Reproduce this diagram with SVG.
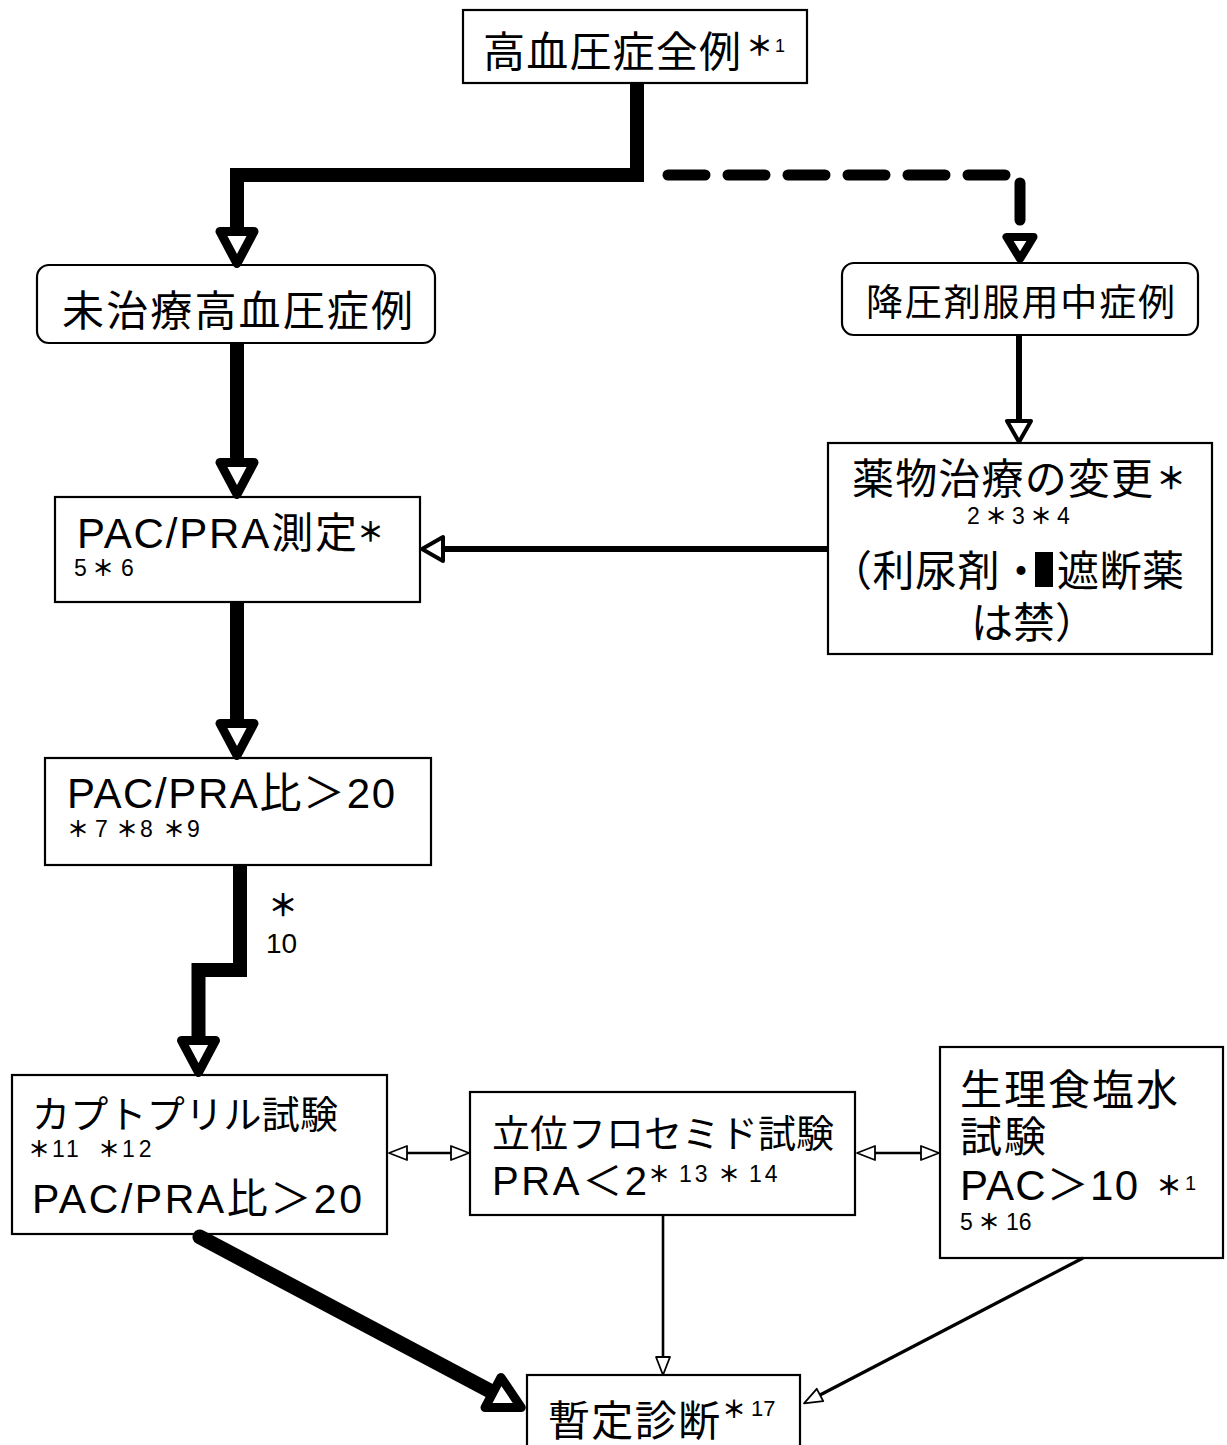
<svg xmlns="http://www.w3.org/2000/svg" width="1227" height="1445" viewBox="0 0 1227 1445">
<defs>
<style>
.box{fill:#fff;stroke:#000;stroke-width:2.2}
.t{font-family:"Liberation Sans","Noto Sans CJK JP",sans-serif;fill:#000}
.a{font-weight:bold;font-size:22px}
.thick{fill:none;stroke:#000;stroke-width:14;stroke-linejoin:miter}
.dash{fill:none;stroke:#000;stroke-width:11;stroke-dasharray:37 23;stroke-linecap:round;stroke-linejoin:round}
.med{fill:none;stroke:#000;stroke-width:6}
.thin{fill:none;stroke:#000;stroke-width:2.6}
</style>
<marker id="ab" markerUnits="userSpaceOnUse" markerWidth="60" markerHeight="60" viewBox="-10 -30 60 60" refX="0" refY="0" orient="auto" overflow="visible">
<path d="M0,-17 L32,0 L0,17 z" fill="#fff" stroke="#000" stroke-width="9" stroke-linejoin="round"/>
</marker>
<marker id="ad" markerUnits="userSpaceOnUse" markerWidth="50" markerHeight="50" viewBox="-10 -25 50 50" refX="0" refY="0" orient="auto" overflow="visible">
<path d="M0,-13.5 L22,0 L0,13.5 z" fill="#fff" stroke="#000" stroke-width="8" stroke-linejoin="round"/>
</marker>
<marker id="am" markerUnits="userSpaceOnUse" markerWidth="40" markerHeight="40" viewBox="-10 -20 40 40" refX="0" refY="0" orient="auto" overflow="visible">
<path d="M0,-12 L21,0 L0,12 z" fill="#fff" stroke="#000" stroke-width="4" stroke-linejoin="round"/>
</marker>
<marker id="as" markerUnits="userSpaceOnUse" markerWidth="30" markerHeight="30" viewBox="-5 -15 30 30" refX="0" refY="0" orient="auto-start-reverse" overflow="visible">
<path d="M0,-7 L18,0 L0,7 z" fill="#fff" stroke="#000" stroke-width="1.8" stroke-linejoin="round"/>
</marker>
</defs>
<rect x="0" y="0" width="1227" height="1445" fill="#fff"/>

<g id="n1">
<rect class="box" x="463" y="10" width="344" height="73"/>
<text class="t" x="483" y="67" font-size="42" textLength="258" lengthAdjust="spacing">高血圧症全例</text>
<text class="t" x="746" y="56" font-size="27" font-weight="bold">＊</text>
<text class="t" x="775" y="52" font-size="18">1</text>
</g>

<g id="n2">
<rect class="box" x="37" y="265" width="398" height="78" rx="12"/>
<text class="t" x="62" y="326" font-size="42" textLength="351" lengthAdjust="spacing">未治療高血圧症例</text>
</g>

<g id="n3">
<rect class="box" x="842" y="263" width="356" height="72" rx="12"/>
<text class="t" x="866" y="316" font-size="37" textLength="309" lengthAdjust="spacing">降圧剤服用中症例</text>
</g>

<g id="n4">
<rect class="box" x="55" y="497" width="365" height="105"/>
<text class="t" x="77" y="548" font-size="42" textLength="280" lengthAdjust="spacing">PAC/PRA測定</text>
<text class="t" x="357" y="542" font-size="27" font-weight="bold">＊</text>
<text class="t" y="576" font-size="23"><tspan x="74">5</tspan><tspan class="a" x="92">＊</tspan><tspan x="121">6</tspan></text>
</g>

<g id="n5">
<rect class="box" x="828" y="443" width="384" height="211"/>
<text class="t" x="852" y="494" font-size="42" textLength="301" lengthAdjust="spacing">薬物治療の変更</text>
<text class="t" x="1156" y="489" font-size="30" font-weight="bold">＊</text>
<text class="t" y="524" font-size="23"><tspan x="967">2</tspan><tspan class="a" x="985">＊</tspan><tspan x="1012">3</tspan><tspan class="a" x="1030">＊</tspan><tspan x="1057">4</tspan></text>
<text class="t" x="830" y="586" font-size="42" textLength="212" lengthAdjust="spacing">（利尿剤・</text>
<rect x="1035" y="552" width="18" height="35" fill="#000"/>
<text class="t" x="1057" y="586" font-size="42" textLength="127" lengthAdjust="spacing">遮断薬</text>
<text class="t" x="971" y="638" font-size="42" textLength="126" lengthAdjust="spacing">は禁）</text>
</g>

<g id="n6">
<rect class="box" x="45" y="758" width="386" height="107"/>
<text class="t" x="67" y="808" font-size="42" textLength="328" lengthAdjust="spacing">PAC/PRA比＞20</text>
<text class="t" y="837" font-size="23"><tspan class="a" x="67">＊</tspan><tspan x="95">7</tspan><tspan class="a" x="116">＊</tspan><tspan x="140">8</tspan><tspan class="a" x="163">＊</tspan><tspan x="187">9</tspan></text>
</g>

<g id="n7">
<rect class="box" x="12" y="1075" width="375" height="159"/>
<text class="t" x="32" y="1128" font-size="38" textLength="306" lengthAdjust="spacing">カプトプリル試験</text>
<text class="t" y="1157" font-size="23"><tspan class="a" x="28">＊</tspan><tspan x="52" letter-spacing="3">11</tspan><tspan class="a" x="98">＊</tspan><tspan x="122" letter-spacing="4">12</tspan></text>
<text class="t" x="32" y="1213" font-size="41" textLength="330" lengthAdjust="spacing">PAC/PRA比＞20</text>
</g>

<g id="n8">
<rect class="box" x="470" y="1092" width="385" height="123"/>
<text class="t" x="492" y="1147" font-size="38" textLength="342" lengthAdjust="spacing">立位フロセミド試験</text>
<text class="t" x="492" y="1195" font-size="40" textLength="155" lengthAdjust="spacing">PRA＜2</text>
<text class="t" y="1182" font-size="23"><tspan class="a" x="648">＊</tspan><tspan x="679" letter-spacing="3">13</tspan><tspan class="a" x="718">＊</tspan><tspan x="749" letter-spacing="3">14</tspan></text>
</g>

<g id="n9">
<rect class="box" x="940" y="1047" width="283" height="211"/>
<text class="t" x="960" y="1105" font-size="42" textLength="218" lengthAdjust="spacing">生理食塩水</text>
<text class="t" x="960" y="1152" font-size="42" textLength="86" lengthAdjust="spacing">試験</text>
<text class="t" x="960" y="1200" font-size="42" textLength="178" lengthAdjust="spacing">PAC＞10</text>
<text class="t" x="1156" y="1195" font-size="26" font-weight="bold">＊</text>
<text class="t" x="1185" y="1190" font-size="20">1</text>
<text class="t" y="1230" font-size="23"><tspan x="960">5</tspan><tspan class="a" x="978">＊</tspan><tspan x="1006">16</tspan></text>
</g>

<g id="n10">
<rect class="box" x="527" y="1375" width="273" height="90"/>
<text class="t" x="548" y="1436" font-size="42" textLength="172" lengthAdjust="spacing">暫定診断</text>
<text class="t" x="722" y="1418" font-size="24" font-weight="bold">＊</text>
<text class="t" x="751" y="1416" font-size="22">17</text>
</g>

<g id="connectors">
<path class="thick" d="M637,83 V175 H237 V231.5" marker-end="url(#ab)"/>
<path class="dash" d="M668,175 H1020 V237" marker-end="url(#ad)"/>
<path class="thick" d="M237,343 V462.5" marker-end="url(#ab)"/>
<path class="med" d="M1019,335 V421" marker-end="url(#am)"/>
<path class="med" d="M828,549 H443" marker-end="url(#am)"/>
<path class="thick" d="M237,602 V723.5" marker-end="url(#ab)"/>
<path class="thick" d="M240,865 V970 H198.5 V1040.5" marker-end="url(#ab)"/>
<text class="t" x="268" y="916" font-size="30" font-weight="bold">＊</text>
<text class="t" x="266" y="953" font-size="28">10</text>
<path class="thin" d="M407,1153 H451" marker-start="url(#as)" marker-end="url(#as)"/>
<path class="thin" d="M875,1153 H921" marker-start="url(#as)" marker-end="url(#as)"/>
<path d="M200,1237 L493,1392.5" fill="none" stroke="#000" stroke-width="15" stroke-linecap="round" marker-end="url(#ab)"/>
<path class="thin" d="M663,1215 V1357" marker-end="url(#as)"/>
<path d="M1083,1258 L820,1395" fill="none" stroke="#000" stroke-width="3.2" marker-end="url(#as)"/>
</g>
</svg>
